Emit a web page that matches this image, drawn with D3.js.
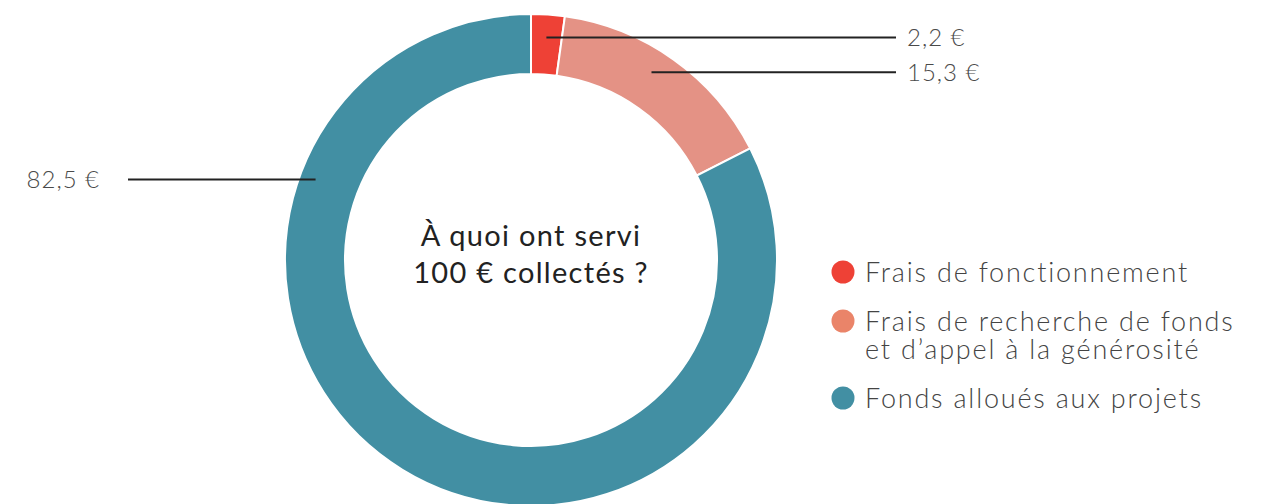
<!DOCTYPE html>
<html>
<head>
<meta charset="utf-8">
<script src="https://d3js.org/d3.v7.min.js"></script>
<style>
  body { margin: 0; background: #fff; }
  svg { display: block; font-family: Lato, "Open Sans", sans-serif; }
</style>
</head>
<body>
<svg id="chart" width="1272" height="504"></svg>
<script>
// data
var categories = ["Frais de fonctionnement", "Frais de recherche de fonds et d\u2019appel à la générosité", "Fonds alloués aux projets"];
var amounts = [2.2, 15.3, 82.5];
var valueLabels = ["2,2 €", "15,3 €", "82,5 €"];
var legendLines = [["Frais de fonctionnement"], ["Frais de recherche de fonds", "et d\u2019appel à la générosité"], ["Fonds alloués aux projets"]];
var titleLines = ["À quoi ont servi", "100 € collectés ?"];

var colors = ["#ee4136", "#e49285", "#428fa3"];
var legendColors = ["#ee4136", "#ea8469", "#428fa3"];

var svg = d3.select("#chart");
var cx = 531, cy = 260, outerR = 246, innerR = 186;

var pie = d3.pie().sort(null).value(function(d){ return d; });
var arcs = pie(amounts);

var arc = d3.arc().innerRadius(innerR).outerRadius(outerR);

var g = svg.append("g").attr("transform", "translate(" + cx + "," + cy + ")");

g.selectAll("path.slice")
  .data(arcs)
  .enter().append("path")
  .attr("class", "slice")
  .attr("d", arc)
  .attr("fill", function(d, i){ return colors[i]; })
  .attr("stroke", "#fff")
  .attr("stroke-width", 2);

// label anchors: where the leader line touches the ring
var labelR = [223, 223, 230];
var labelPos = [0.5, 0.45, 0.766]; // fraction along each slice
var labels = arcs.map(function(d, i){
  var a = d.startAngle + (d.endAngle - d.startAngle) * labelPos[i];
  return { x: labelR[i] * Math.sin(a), y: -labelR[i] * Math.cos(a), i: i };
});

var lineRight = 896 - cx, textRight = 907 - cx;
var lineLeft = 128 - cx, textLeft = 100 - cx;

g.selectAll("line.leader")
  .data(labels)
  .enter().append("line")
  .attr("class", "leader")
  .attr("x1", function(d){ return d.x; })
  .attr("y1", function(d){ return d.y; })
  .attr("x2", function(d){ return d.x > 0 ? lineRight : lineLeft; })
  .attr("y2", function(d){ return d.y; })
  .attr("stroke", "#222")
  .attr("stroke-width", 2);

g.selectAll("text.val")
  .data(labels)
  .enter().append("text")
  .attr("class", "val")
  .attr("x", function(d){ return d.x > 0 ? textRight : textLeft; })
  .attr("y", function(d){ return d.y; })
  .attr("dy", "0.36em")
  .attr("text-anchor", function(d){ return d.x > 0 ? "start" : "end"; })
  .attr("fill", "#4a4a4a")
  .attr("font-size", 24)
  .attr("font-weight", 300)
  .attr("letter-spacing", 1)
  .text(function(d){ return valueLabels[d.i]; });

// centre title
g.selectAll("text.title")
  .data(titleLines)
  .enter().append("text")
  .attr("class", "title")
  .attr("text-anchor", "middle")
  .attr("x", 0)
  .attr("y", function(d, i){ return -14 + i * 37; })
  .attr("fill", "#222")
  .attr("font-size", 29)
  .attr("letter-spacing", 1.3)
  .text(function(d){ return d; });

// legend
var legendY = [272, 321, 398];
var legend = svg.selectAll("g.legend")
  .data(legendLines)
  .enter().append("g")
  .attr("class", "legend")
  .attr("transform", function(d, i){ return "translate(843," + legendY[i] + ")"; });

legend.append("circle")
  .attr("r", 11.5)
  .attr("fill", function(d, i){ return legendColors[i]; });

legend.append("text")
  .attr("x", 22)
  .attr("y", 10)
  .attr("fill", "#444")
  .attr("font-size", 27)
  .attr("font-weight", 300)
  .attr("letter-spacing", 1.8)
  .selectAll("tspan")
  .data(function(d){ return d; })
  .enter().append("tspan")
  .attr("x", 22)
  .attr("dy", function(d, i){ return i === 0 ? 0 : 28; })
  .text(function(d){ return d; });
</script>
</body>
</html>
